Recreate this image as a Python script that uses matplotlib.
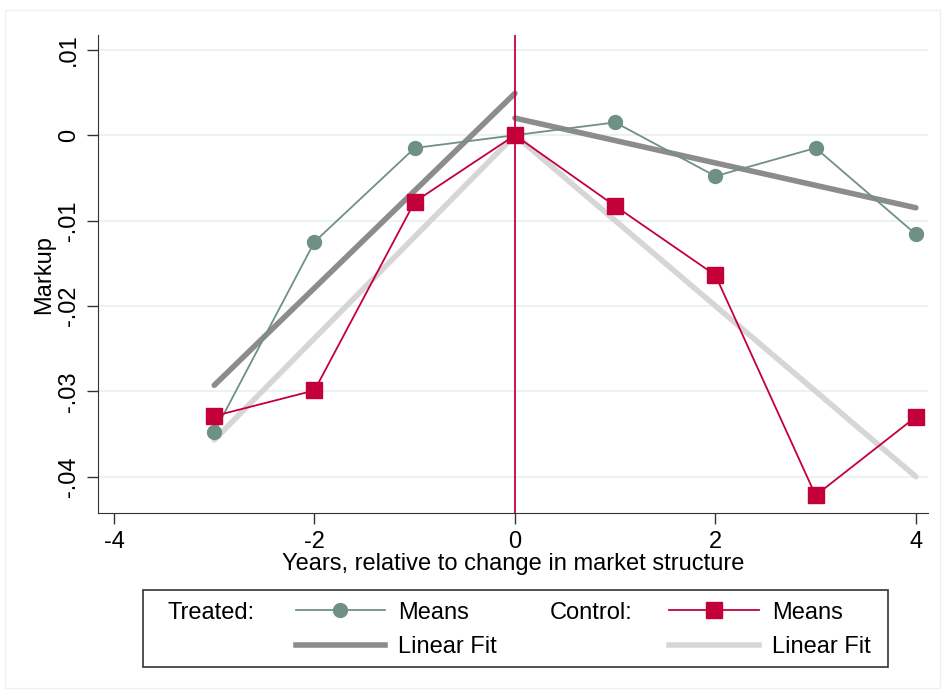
import matplotlib.pyplot as plt
from matplotlib.lines import Line2D
from matplotlib.patches import Rectangle

plt.rcParams['font.family'] = ['Liberation Sans', 'DejaVu Sans']

years = [-3, -2, -1, 0, 1, 2, 3, 4]
treated_means = [-0.0348, -0.0125, -0.0015, 0.0, 0.0015, -0.0048, -0.0015, -0.0116]
control_means = [-0.0329, -0.0299, -0.0078, 0.0, -0.0083, -0.0164, -0.0422, -0.0330]

# linear fits, before and after the change
fit_pre_x = [-3, 0]
fit_post_x = [0, 4]
treated_fit_pre = [-0.0293, 0.0049]
treated_fit_post = [0.0020, -0.0085]
control_fit_pre = [-0.0357, 0.0]
control_fit_post = [0.0, -0.0400]

yticks = [0.01, 0, -0.01, -0.02, -0.03, -0.04]
ytick_labels = [".01", "0", "-.01", "-.02", "-.03", "-.04"]
xticks = [-4, -2, 0, 2, 4]

teal = "#6f9184"
red = "#c4003a"
dark_gray = "#8c8c8c"
light_gray = "#d6d6d6"
fs = 17

fig = plt.figure(figsize=(9.42, 6.91), dpi=100)
ax = fig.add_axes([0.104, 0.2576, 0.881, 0.6914])

for yv in yticks:
    ax.axhline(yv, color="#e6f0f1", lw=1.2, zorder=0)

ax.plot(fit_pre_x, control_fit_pre, color=light_gray, lw=4, solid_capstyle="round", zorder=1)
ax.plot(fit_post_x, control_fit_post, color=light_gray, lw=4, solid_capstyle="round", zorder=1)
ax.plot(fit_pre_x, treated_fit_pre, color=dark_gray, lw=4, solid_capstyle="round", zorder=2)
ax.plot(fit_post_x, treated_fit_post, color=dark_gray, lw=4, solid_capstyle="round", zorder=2)

ax.axvline(0, color=red, lw=1.3, zorder=3)

ax.plot(years, treated_means, color=teal, lw=1.3, marker="o", ms=10, zorder=4)
ax.plot(years, control_means, color=red, lw=1.3, marker="s", ms=11, zorder=5)

ax.set_xlim(-4.16, 4.12)
ax.set_ylim(-0.04426, 0.01171)
ax.set_xticks(xticks)
ax.set_xticklabels([str(v) for v in xticks])
ax.set_yticks(yticks)
ax.set_yticklabels(ytick_labels, rotation=90, va="center")
ax.tick_params(axis="both", labelsize=fs, length=8, width=1, color="#333333")
ax.tick_params(axis="x", pad=5)
ax.tick_params(axis="y", pad=5)
for side in ["top", "right"]:
    ax.spines[side].set_visible(False)
for side in ["left", "bottom"]:
    ax.spines[side].set_color("#333333")
ax.set_xlabel("Years, relative to change in market structure", fontsize=fs, labelpad=0)
ax.set_ylabel("Markup", fontsize=fs, labelpad=2)

# legend
fig.patches.append(Rectangle((143 / 942, 1 - 667 / 691), 745 / 942, 77 / 691,
                             transform=fig.transFigure, fill=False, edgecolor="#333333", lw=1.2))
handles = [
    Line2D([], [], color=teal, lw=1.3, marker="o", ms=10),
    Line2D([], [], color=dark_gray, lw=4),
    Line2D([], [], color=red, lw=1.3, marker="s", ms=11),
    Line2D([], [], color=light_gray, lw=4),
]
labels = ["Means", "Linear Fit", "Means", "Linear Fit"]
fig.legend(handles, labels, ncol=2, frameon=False, fontsize=fs,
           loc="center left", bbox_to_anchor=(279 / 942, 1 - 630 / 691),
           handlelength=3.8, columnspacing=7.3, labelspacing=0.55, handletextpad=0.55,
           borderpad=0.2)
fig.text(168 / 942, 1 - 613 / 691, "Treated:", fontsize=fs, va="center")
fig.text(550 / 942, 1 - 613 / 691, "Control:", fontsize=fs, va="center")

fig.patches.append(Rectangle((5 / 942, 0.005), 935 / 942, 1 - 10 / 691 - 0.005,
                             transform=fig.transFigure, fill=False, edgecolor="#f0f0f0", lw=1))

fig.savefig("out.png", dpi=100)
